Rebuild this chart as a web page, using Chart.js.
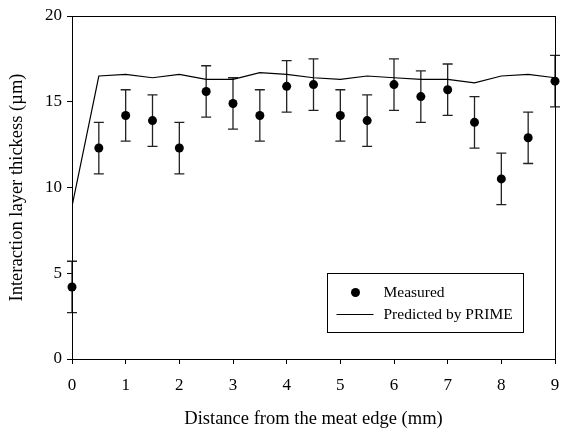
<!DOCTYPE html>
<html>
<head>
<meta charset="utf-8">
<script src="https://cdn.jsdelivr.net/npm/chart.js@4/dist/chart.umd.min.js"></script>
<style>
  html, body { margin: 0; padding: 0; background: #fff; }
  #wrap { width: 571px; height: 431px; }
</style>
</head>
<body>
<div id="wrap"><canvas id="chart" width="571" height="431"></canvas></div>
<script>
// distance from the meat edge (mm)
const distances = [0, 0.5, 1, 1.5, 2, 2.5, 3, 3.5, 4, 4.5, 5, 5.5, 6, 6.5, 7, 7.5, 8, 8.5, 9];
const measured = [4.2, 12.3, 14.2, 13.9, 12.3, 15.6, 14.9, 14.2, 15.9, 16.0, 14.2, 13.9, 16.0, 15.3, 15.7, 13.8, 10.5, 12.9, 16.2];
const measuredErr = [1.5, 1.5, 1.5, 1.5, 1.5, 1.5, 1.5, 1.5, 1.5, 1.5, 1.5, 1.5, 1.5, 1.5, 1.5, 1.5, 1.5, 1.5, 1.5];
const predicted = [8.9, 16.5, 16.6, 16.4, 16.6, 16.3, 16.3, 16.7, 16.6, 16.4, 16.3, 16.5, 16.4, 16.3, 16.3, 16.1, 16.5, 16.6, 16.4];
const xTicks = [0, 1, 2, 3, 4, 5, 6, 7, 8, 9];
const yTicks = [0, 5, 10, 15, 20];
const seriesNames = ['Measured', 'Predicted by PRIME'];

const FONT = "'Liberation Serif', 'Times New Roman', serif";

// error bars, drawn under the markers
const errorBars = {
  id: 'errorBars',
  beforeDatasetsDraw(chart) {
    const { ctx, scales: { x, y } } = chart;
    ctx.save();
    ctx.strokeStyle = '#222';
    ctx.lineWidth = 1.3;
    distances.forEach((d, i) => {
      const px = x.getPixelForValue(d);
      const top = y.getPixelForValue(measured[i] + measuredErr[i]);
      const bot = y.getPixelForValue(measured[i] - measuredErr[i]);
      ctx.beginPath();
      ctx.moveTo(px, top); ctx.lineTo(px, bot);
      ctx.moveTo(px - 5, top); ctx.lineTo(px + 5, top);
      ctx.moveTo(px - 5, bot); ctx.lineTo(px + 5, bot);
      ctx.stroke();
    });
    ctx.restore();
  }
};

// box around plot area + legend box in lower right
const frameAndLegend = {
  id: 'frameAndLegend',
  afterDraw(chart) {
    const { ctx, chartArea: a } = chart;
    ctx.save();
    ctx.strokeStyle = '#000';
    ctx.lineWidth = 1;
    ctx.strokeRect(Math.round(a.left) + 0.5, Math.round(a.top) + 0.5,
      Math.round(a.right - a.left), Math.round(a.bottom - a.top));

    const bx = 327.5, by = 273.5, bw = 196, bh = 59;
    ctx.strokeRect(bx, by, bw, bh);
    ctx.font = '15.5px ' + FONT;
    ctx.fillStyle = '#000';
    ctx.textBaseline = 'middle';
    ctx.beginPath();
    ctx.arc(bx + 28, by + 19, 4.5, 0, Math.PI * 2);
    ctx.fill();
    ctx.fillText(seriesNames[0], bx + 56, by + 19);
    ctx.beginPath();
    ctx.moveTo(bx + 9, by + 41); ctx.lineTo(bx + 46, by + 41);
    ctx.lineWidth = 1.2;
    ctx.stroke();
    ctx.fillText(seriesNames[1], bx + 56, by + 41);
    ctx.restore();
  }
};

new Chart(document.getElementById('chart'), {
  type: 'scatter',
  data: {
    datasets: [
      {
        label: seriesNames[0],
        data: distances.map((d, i) => ({ x: d, y: measured[i] })),
        showLine: false,
        pointRadius: 4.5,
        pointBackgroundColor: '#000',
        pointBorderColor: '#000',
        pointBorderWidth: 0,
        clip: false,
        order: 0
      },
      {
        label: seriesNames[1],
        type: 'line',
        data: distances.map((d, i) => ({ x: d, y: predicted[i] })),
        borderColor: '#000',
        borderWidth: 1.2,
        pointRadius: 0,
        tension: 0,
        fill: false,
        order: 1
      }
    ]
  },
  options: {
    responsive: false,
    animation: false,
    layout: { padding: { left: 0, right: 16, top: 16, bottom: 0 } },
    plugins: { legend: { display: false }, tooltip: { enabled: false } },
    scales: {
      x: {
        type: 'linear',
        min: 0, max: 9,
        afterBuildTicks: s => { s.ticks = xTicks.map(v => ({ value: v })); },
        afterFit: s => { s.height = 72; },
        border: { color: '#000', width: 1 },
        grid: { drawOnChartArea: false, tickLength: 5, color: '#000' },
        ticks: { color: '#000', font: { family: FONT, size: 17 }, padding: 11 },
        title: { display: true, text: 'Distance from the meat edge (mm)', color: '#000',
                 font: { family: FONT, size: 18.5 }, padding: { top: 0, bottom: 1 } }
      },
      y: {
        min: 0, max: 20,
        afterBuildTicks: s => { s.ticks = yTicks.map(v => ({ value: v })); },
        afterFit: s => { s.width = 72; },
        border: { color: '#000', width: 1 },
        grid: { drawOnChartArea: false, tickLength: 5, color: '#000' },
        ticks: { color: '#000', font: { family: FONT, size: 17 }, padding: 5 },
        title: { display: true, text: 'Interaction layer thickess (µm)', color: '#000',
                 font: { family: FONT, size: 18.5 }, padding: { top: 6, bottom: 0 } }
      }
    }
  },
  plugins: [errorBars, frameAndLegend]
});
</script>
</body>
</html>
